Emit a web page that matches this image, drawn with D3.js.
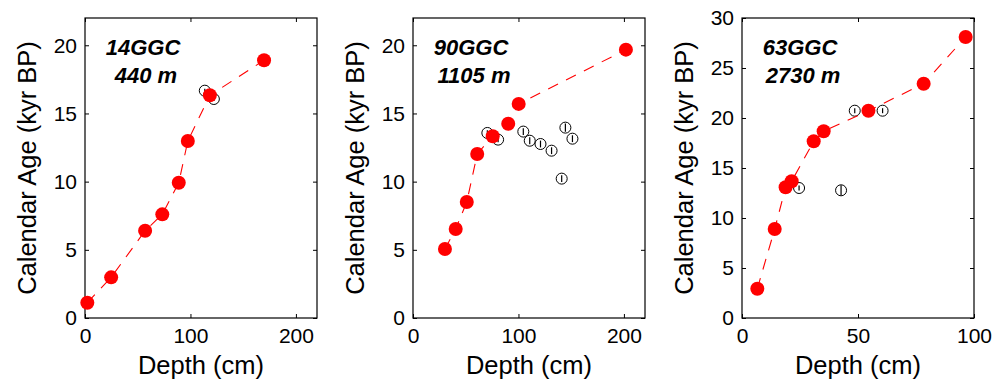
<!DOCTYPE html>
<html>
<head>
<meta charset="utf-8">
<script src="https://cdn.jsdelivr.net/npm/d3@7"></script>
<style>
html,body{margin:0;padding:0;background:#fff;}
svg{display:block;font-family:"Liberation Sans",Arial,Helvetica,sans-serif;}
</style>
</head>
<body>
<svg id="chart" width="1006" height="379"></svg>
<script>
// ---- data ----
const coreNames = ["14GGC", "90GGC", "63GGC"];
const coreDepths = ["440 m", "1105 m", "2730 m"];
const xMax = [220, 220, 100];
const yMax = [22, 22, 30];
const xTicks = [[0, 100, 200], [0, 100, 200], [0, 50, 100]];
const yTicks = [[0, 5, 10, 15, 20], [0, 5, 10, 15, 20], [0, 5, 10, 15, 20, 25, 30]];

// red filled points (age model), depth in cm, age in kyr BP
const used14Depth = [2.2, 24.8, 57, 73.3, 88.9, 97.5, 118.4, 169.8];
const used14Age   = [1.12, 2.98, 6.4, 7.6, 9.92, 12.98, 16.33, 18.9];
const used90Depth = [30.3, 40.5, 51.0, 60.9, 75.6, 90.3, 100.2, 201.9];
const used90Age   = [5.06, 6.53, 8.51, 12.03, 13.33, 14.25, 15.70, 19.68];
const used63Depth = [6.6, 14.1, 18.8, 21.4, 30.9, 35.2, 54.5, 78.3, 96.4];
const used63Age   = [2.93, 8.9, 13.07, 13.67, 17.67, 18.67, 20.73, 23.43, 28.1];

// open circles (rejected dates) with age error (kyr)
const rej14Depth = [113.6, 122.2];
const rej14Age   = [16.67, 16.06];
const rej14Err   = [0.15, 0.15];
const rej90Depth = [70.5, 80.7, 104.6, 110.7, 120.9, 131.4, 141.0, 144.5, 151.2];
const rej90Age   = [13.57, 13.08, 13.67, 13.0, 12.76, 12.27, 10.22, 13.96, 13.15];
const rej90Err   = [0.2, 0.2, 0.25, 0.25, 0.25, 0.25, 0.25, 0.3, 0.25];
const rej63Depth = [24.6, 42.7, 48.6, 60.6];
const rej63Age   = [13.0, 12.77, 20.73, 20.73];
const rej63Err   = [0.25, 0.5, 0.25, 0.25];

const usedDepth = [used14Depth, used90Depth, used63Depth];
const usedAge = [used14Age, used90Age, used63Age];
const rejDepth = [rej14Depth, rej90Depth, rej63Depth];
const rejAge = [rej14Age, rej90Age, rej63Age];
const rejErr = [rej14Err, rej90Err, rej63Err];

// ---- layout ----
const panelLeft = [85, 413, 742];
const panelW = 232;
const plotTop = 18, plotBottom = 318;

const svg = d3.select("#chart");

for (let p = 0; p < 3; p++) {
  const L = panelLeft[p], R = L + panelW;
  const x = d3.scaleLinear().domain([0, xMax[p]]).range([L, R]);
  const y = d3.scaleLinear().domain([0, yMax[p]]).range([plotBottom, plotTop]);
  const g = svg.append("g");

  // axes: ticks inward, on all four sides
  const axB = d3.axisBottom(x).tickValues(xTicks[p]).tickSize(-4).tickPadding(10).tickFormat(d3.format("d"));
  const axT = d3.axisTop(x).tickValues(xTicks[p]).tickSize(-4).tickFormat("");
  const axL = d3.axisLeft(y).tickValues(yTicks[p]).tickSize(-4).tickPadding(8).tickFormat(d3.format("d"));
  const axR = d3.axisRight(y).tickValues(yTicks[p]).tickSize(-4).tickFormat("");
  const gb = g.append("g").attr("transform", `translate(0,${plotBottom})`).call(axB);
  const gt = g.append("g").attr("transform", `translate(0,${plotTop})`).call(axT);
  const gl = g.append("g").attr("transform", `translate(${L},0)`).call(axL);
  const gr = g.append("g").attr("transform", `translate(${R},0)`).call(axR);
  [gb, gt, gl, gr].forEach(a => {
    a.select(".domain").remove();
    a.selectAll(".tick line").attr("stroke", "#000").attr("stroke-width", 1);
    a.selectAll("text").attr("font-size", 21).attr("fill", "#000")
      .attr("font-family", "'Liberation Sans', Arial, sans-serif");
  });
  // box
  g.append("rect").attr("x", L).attr("y", plotTop).attr("width", panelW).attr("height", plotBottom - plotTop)
    .attr("fill", "none").attr("stroke", "#000").attr("stroke-width", 1.2);

  // axis labels
  g.append("text").attr("x", (L + R) / 2).attr("y", 374).attr("text-anchor", "middle")
    .attr("font-size", 25.5).attr("fill", "#000").text("Depth (cm)");
  g.append("text").attr("transform", `translate(${L - 49},${(plotTop + plotBottom) / 2}) rotate(-90)`)
    .attr("text-anchor", "middle").attr("font-size", 25.5).attr("fill", "#000")
    .text("Calendar Age (kyr BP)");

  // annotation
  g.append("text").attr("x", L + 58).attr("y", 55).attr("text-anchor", "middle")
    .attr("font-size", 22).attr("font-weight", "bold").attr("font-style", "italic")
    .attr("fill", "#000").text(coreNames[p]);
  g.append("text").attr("x", L + 61).attr("y", 82.5).attr("text-anchor", "middle")
    .attr("font-size", 22).attr("font-weight", "bold").attr("font-style", "italic")
    .attr("fill", "#000").text(coreDepths[p]);

  // rejected dates: open circles with error bars
  const rej = rejDepth[p].map((d, i) => ({ d, a: rejAge[p][i], e: rejErr[p][i] }));
  const rg = g.append("g");
  rg.selectAll("circle").data(rej).join("circle")
    .attr("cx", r => x(r.d)).attr("cy", r => y(r.a)).attr("r", 5.5)
    .attr("fill", "#fff").attr("stroke", "#000").attr("stroke-width", 1);
  rg.selectAll("line").data(rej).join("line")
    .attr("x1", r => x(r.d)).attr("x2", r => x(r.d))
    .attr("y1", r => y(r.a - r.e)).attr("y2", r => y(r.a + r.e))
    .attr("stroke", "#000").attr("stroke-width", 1.2);

  // age model: dashed red line + filled points
  const used = usedDepth[p].map((d, i) => ({ d, a: usedAge[p][i] }));
  g.append("path").datum(used)
    .attr("d", d3.line().x(u => x(u.d)).y(u => y(u.a)))
    .attr("fill", "none").attr("stroke", "#ff0000").attr("stroke-width", 1.1)
    .attr("stroke-dasharray", "11,9");
  g.append("g").selectAll("circle").data(used).join("circle")
    .attr("cx", u => x(u.d)).attr("cy", u => y(u.a)).attr("r", 7)
    .attr("fill", "#ff0000");
}
</script>
</body>
</html>
